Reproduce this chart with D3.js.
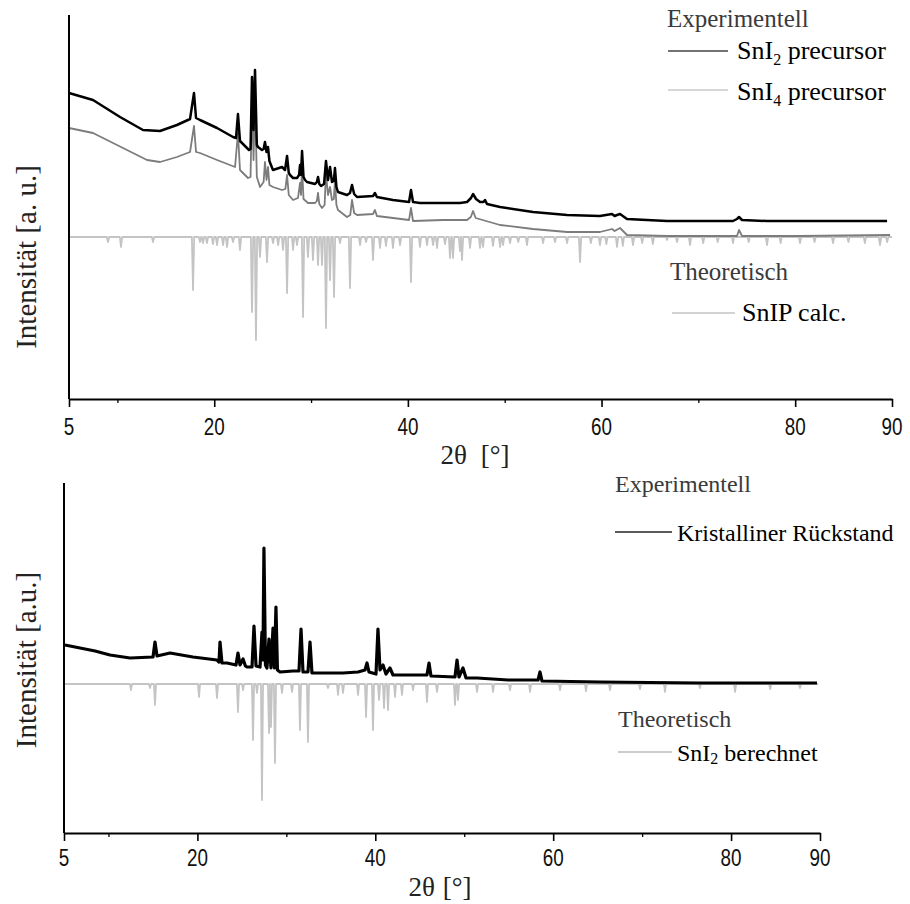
<!DOCTYPE html>
<html><head><meta charset="utf-8">
<script src="https://cdn.jsdelivr.net/npm/d3@7"></script>
<style>body{margin:0;background:#fff}svg{display:block}</style>
</head><body><svg id="c" width="910" height="904"></svg>
<script>
// ---------- data (2θ in degrees, intensity in a.u., stacked as plotted) ----------
const majorTicks = [5, 20, 40, 60, 80, 90];
const minorTicks = [10, 30, 50, 70];

const topSnI2Precursor = [[5.00,144],[7.48,137],[10.27,120],[12.64,107],[14.40,106],[16.15,112],[17.50,118],[17.91,144],[18.12,119],[18.53,117],[20.29,109],[21.94,100],[22.25,99],[22.45,123],[22.66,96],[23.59,87],[23.75,88],[23.90,160],[24.06,107],[24.21,167],[24.40,92],[24.52,90],[24.93,87],[25.10,88],[25.24,95],[25.40,85],[25.55,90],[25.70,76],[25.86,72],[26.07,67],[27.00,70],[27.31,67],[27.52,81],[27.70,64],[27.83,62],[28.14,59],[28.55,59],[28.76,62],[28.86,72],[28.96,62],[29.07,86],[29.22,60],[29.38,57],[29.58,55],[30.41,53],[30.60,55],[30.72,60],[30.85,53],[31.03,51],[31.34,53],[31.54,76],[31.75,57],[31.96,70],[32.16,55],[32.35,56],[32.47,69],[32.62,50],[32.78,45],[33.71,42],[34.02,44],[34.23,52],[34.45,43],[34.75,40],[36.40,41],[36.60,44],[36.80,40],[38.46,37],[40.12,35],[40.32,47],[40.53,35],[41.25,34],[43.63,34],[45.38,34],[46.11,35],[46.52,39],[46.73,43],[47.04,38],[47.45,35],[47.80,35],[47.97,37],[48.17,33],[49.52,30],[52.92,25],[56.44,22],[59.84,21],[61.08,23],[61.35,21],[61.60,22],[61.91,23],[62.63,18],[66.76,16],[70.17,16],[73.58,16],[73.99,18],[74.20,20],[74.51,17],[77.09,16],[80.50,16],[85.66,16],[89.49,16]];

const topSnI4Precursor = [[5.00,109],[7.48,104],[10.99,87],[13.06,77],[14.40,75],[16.15,80],[17.50,85],[17.91,111],[18.12,85],[18.53,84],[20.29,77],[22.15,70],[22.45,104],[22.66,67],[23.49,59],[23.75,60],[23.90,137],[24.06,77],[24.21,142],[24.40,60],[24.73,50],[25.10,55],[25.24,75],[25.40,57],[25.55,70],[25.70,52],[26.07,50],[27.00,47],[27.35,48],[27.52,62],[27.70,42],[28.14,37],[28.65,39],[28.86,54],[28.96,42],[29.07,70],[29.22,38],[29.69,34],[30.41,34],[30.60,36],[30.72,44],[30.85,33],[31.13,29],[31.40,32],[31.54,64],[31.75,42],[31.96,50],[32.16,37],[32.35,38],[32.47,57],[32.62,32],[32.78,27],[33.71,20],[34.05,22],[34.23,37],[34.45,24],[34.75,22],[36.40,23],[36.60,27],[36.80,21],[38.46,19],[40.12,17],[40.32,29],[40.53,16],[43.63,17],[46.11,17],[46.50,20],[46.73,26],[47.00,19],[49.52,12],[52.92,8],[56.44,5],[59.84,5],[61.08,8],[61.35,6],[61.91,9],[62.63,2],[66.76,1],[73.99,1],[74.20,7],[74.51,1],[80.50,1],[89.80,2]];

// calculated SnIP reflections: [2θ, depth below the zero line]
const topSnIPCalcPeaks = [[9.03,-5],[10.37,-10],[13.68,-5],[17.81,-53],[18.53,-5],[18.84,-6],[19.25,-6],[19.87,-7],[20.29,-8],[20.91,-8],[21.32,-10],[21.94,-5],[22.66,-13],[23.90,-75],[24.31,-103],[24.73,-20],[25.45,-25],[26.07,-6],[26.60,-8],[27.10,-13],[27.52,-56],[28.14,-13],[28.55,-8],[29.17,-80],[29.68,-20],[30.20,-23],[30.72,-28],[31.13,-28],[31.54,-91],[31.96,-43],[32.37,-60],[32.99,-6],[34.02,-51],[35.06,-8],[35.68,-5],[36.40,-23],[37.12,-11],[37.74,-9],[38.46,-11],[39.19,-8],[40.32,-45],[41.25,-10],[41.98,-8],[42.60,-8],[43.01,-11],[43.84,-7],[44.35,-21],[44.66,-21],[45.38,-14],[45.59,-23],[46.42,-11],[47.45,-11],[47.76,-10],[48.79,-9],[49.52,-10],[49.83,-8],[50.55,-6],[51.40,-5],[52.30,-8],[53.96,-6],[55.20,-5],[56.44,-6],[57.78,-25],[58.90,-6],[59.84,-8],[60.50,-7],[61.60,-10],[62.20,-9],[63.25,-8],[64.20,-6],[65.30,-7],[66.76,-3],[67.80,-5],[69.14,-8],[70.50,-6],[72.00,-5],[73.58,-6],[75.20,-5],[77.09,-8],[78.50,-6],[80.50,-6],[82.00,-5],[83.91,-6],[85.50,-5],[87.20,-6],[88.76,-8],[89.50,-5]];

const botCrystallineResidue = [[5.11,39],[6.80,36],[8.50,33],[10.17,29],[12.42,26],[15.01,27],[15.23,42],[15.46,28],[16.92,31],[19.50,27],[22.20,24],[22.43,22],[22.54,42],[22.76,21],[23.33,21],[24.34,19],[24.56,31],[24.79,19],[25.13,25],[25.40,18],[25.58,17],[26.14,17],[26.36,58],[26.59,18],[27.04,17],[27.26,52],[27.37,24],[27.48,136],[27.65,19],[27.82,16],[28.05,45],[28.27,16],[28.50,56],[28.66,16],[28.83,77],[29.00,14],[29.29,12],[30.75,13],[31.42,13],[31.65,55],[31.87,12],[32.43,12],[32.66,42],[32.88,11],[34.91,11],[36.37,11],[38.06,12],[38.84,14],[39.07,21],[39.29,12],[40.08,10],[40.30,55],[40.53,14],[40.87,19],[41.20,10],[41.65,16],[41.99,9],[45.81,9],[46.04,21],[46.26,8],[48.96,7],[49.19,24],[49.41,7],[49.86,16],[50.20,6],[51.44,6],[54.92,4],[58.30,4],[58.52,12],[58.74,3],[65.27,2],[76.51,1],[89.66,1]];

const botSnI2CalcPeaks = [[12.53,-6],[14.67,-4],[15.23,-21],[20.18,-13],[22.20,-14],[24.56,-28],[25.13,-6],[26.25,-56],[26.70,-9],[27.26,-116],[28.05,-49],[28.27,-43],[28.72,-79],[29.51,-9],[30.64,-8],[31.53,-46],[32.43,-58],[34.68,-4],[35.81,-11],[36.37,-9],[38.06,-11],[38.96,-33],[39.74,-46],[40.42,-16],[40.98,-24],[41.43,-26],[42.22,-13],[43.00,-11],[44.24,-6],[45.81,-18],[46.94,-8],[48.96,-21],[49.30,-16],[51.44,-8],[53.24,-8],[55.15,-6],[57.40,-8],[60.77,-6],[63.69,-7],[66.39,-6],[69.76,-5],[72.57,-8],[76.50,-4],[80.45,-8],[84.40,-5],[87.75,-4]];

// ---------- drawing ----------
const svg = d3.select("#c");
const SERIF = "'Liberation Serif','Times New Roman',Times,serif";
const SANS = "'Liberation Sans',Arial,sans-serif";

// calculated reflection list -> drawn profile (zero line with a narrow dip at each reflection)
function stickProfile(peaks, start, end) {
  const pts = [[start, 0]];
  peaks.forEach(([p, h]) => { pts.push([p - 0.12, 0], [p, h], [p + 0.12, 0]); });
  pts.push([end, 0]);
  return pts;
}

function panel(cfg) {
  const x = d3.scaleLinear().domain([5, 90]).range([cfg.x0, cfg.x1]);
  const y = d3.scaleLinear().domain(cfg.yDomain).range([cfg.yBottom, cfg.yTop]);
  const g = svg.append("g");
  const line = d3.line().x(d => x(d[0])).y(d => y(d[1]));

  cfg.series.forEach(s => {
    g.append("path").attr("d", line(s.data)).attr("fill", "none")
      .attr("stroke", s.color).attr("stroke-width", s.width).attr("stroke-linejoin", "round");
  });

  // x axis (major + minor ticks)
  const ax = g.append("g").attr("transform", `translate(0,${cfg.yBottom})`)
    .call(d3.axisBottom(x).tickValues(majorTicks).tickSize(8).tickSizeOuter(0).tickFormat(""));
  ax.select(".domain").attr("stroke", "#000").attr("stroke-width", 2);
  ax.selectAll(".tick line").attr("stroke", "#000").attr("stroke-width", 1.6);
  const axm = g.append("g").attr("transform", `translate(0,${cfg.yBottom})`)
    .call(d3.axisBottom(x).tickValues(minorTicks).tickSize(4).tickSizeOuter(0).tickFormat(""));
  axm.select(".domain").remove();
  axm.selectAll(".tick line").attr("stroke", "#000").attr("stroke-width", 1.3);

  // y axis line (no ticks)
  g.append("line").attr("x1", x(5)).attr("x2", x(5)).attr("y1", cfg.yTop).attr("y2", cfg.yBottom)
    .attr("stroke", "#000").attr("stroke-width", 2);

  // tick labels (condensed sans)
  majorTicks.forEach(v => {
    g.append("text").attr("transform", `translate(${x(v)},${cfg.labelY}) scale(0.82,1)`)
      .attr("text-anchor", "middle").style("font-family", SANS).style("font-size", "23px")
      .attr("fill", "#111").text(v);
  });

  // axis titles
  const xt = g.append("text").attr("x", cfg.xTitleX).attr("y", cfg.xTitleY).attr("text-anchor", "middle")
    .style("font-family", SERIF).style("font-size", "27px").attr("fill", "#222");
  xt.append("tspan").text("2θ");
  xt.append("tspan").attr("dx", cfg.xTitleGap).text("[°]");
  g.append("text").attr("transform", `translate(${cfg.yTitleX},${cfg.yTitleY}) rotate(-90)`)
    .attr("text-anchor", "middle").style("font-family", SERIF).style("font-size", "29px")
    .attr("fill", "#222").text(cfg.yTitle);

  // legend
  cfg.legend.forEach(L => {
    if (L.line) {
      g.append("line").attr("x1", L.line[0]).attr("x2", L.line[1]).attr("y1", L.line[2]).attr("y2", L.line[2])
        .attr("stroke", L.lineColor).attr("stroke-width", 1.4);
    }
    const t = g.append("text").attr("x", L.x).attr("y", L.y).style("font-family", SERIF)
      .style("font-size", L.size + "px").attr("fill", L.color);
    L.parts.forEach(p => {
      if (p.sub) {
        t.append("tspan").attr("dy", p.dy).style("font-size", p.size + "px").text(p.text);
      } else {
        t.append("tspan").attr("dy", p.dy || 0).text(p.text);
      }
    });
  });
}

// top panel
panel({
  x0: 69, x1: 892, yTop: 15, yBottom: 399, yDomain: [-162, 222], labelY: 435,
  xTitleX: 475, xTitleY: 464, xTitleGap: 14, yTitleX: 36, yTitleY: 257,
  yTitle: "Intensität [a. u.]",
  series: [
    { data: stickProfile(topSnIPCalcPeaks, 5, 90), color: "#c4c4c4", width: 1.8 },
    { data: topSnI4Precursor, color: "#7c7c7c", width: 1.8 },
    { data: topSnI2Precursor, color: "#000", width: 2.5 }
  ],
  legend: [
    { x: 667, y: 27, size: 25, color: "#3a3a3a", parts: [{ text: "Experimentell" }] },
    { x: 737, y: 59, size: 26, color: "#000", line: [668, 728, 51], lineColor: "#444",
      parts: [{ text: "SnI" }, { text: "2", sub: true, dy: 6, size: 16 }, { text: " precursor", dy: -6 }] },
    { x: 737, y: 100, size: 26, color: "#000", line: [668, 728, 90], lineColor: "#c8c8c8",
      parts: [{ text: "SnI" }, { text: "4", sub: true, dy: 6, size: 16 }, { text: " precursor", dy: -6 }] },
    { x: 670, y: 280, size: 25, color: "#3a3a3a", parts: [{ text: "Theoretisch" }] },
    { x: 742, y: 321, size: 26, color: "#000", line: [672, 735, 313], lineColor: "#c4c4c4",
      parts: [{ text: "SnIP calc." }] }
  ]
});

// bottom panel
panel({
  x0: 64, x1: 820, yTop: 483, yBottom: 833, yDomain: [-149, 201], labelY: 866,
  xTitleX: 440, xTitleY: 896, xTitleGap: 8, yTitleX: 36, yTitleY: 660,
  yTitle: "Intensität [a.u.]",
  series: [
    { data: stickProfile(botSnI2CalcPeaks, 5, 89.8), color: "#c4c4c4", width: 1.8 },
    { data: botCrystallineResidue, color: "#000", width: 3.2 }
  ],
  legend: [
    { x: 615, y: 492, size: 24, color: "#3a3a3a", parts: [{ text: "Experimentell" }] },
    { x: 677, y: 541, size: 24, color: "#000", line: [615, 672, 532], lineColor: "#222",
      parts: [{ text: "Kristalliner Rückstand" }] },
    { x: 618, y: 727, size: 24, color: "#3a3a3a", parts: [{ text: "Theoretisch" }] },
    { x: 677, y: 761, size: 24, color: "#000", line: [618, 672, 752], lineColor: "#bbb",
      parts: [{ text: "SnI" }, { text: "2", sub: true, dy: 3, size: 16 }, { text: " berechnet", dy: -3 }] }
  ]
});
</script>
</body></html>
